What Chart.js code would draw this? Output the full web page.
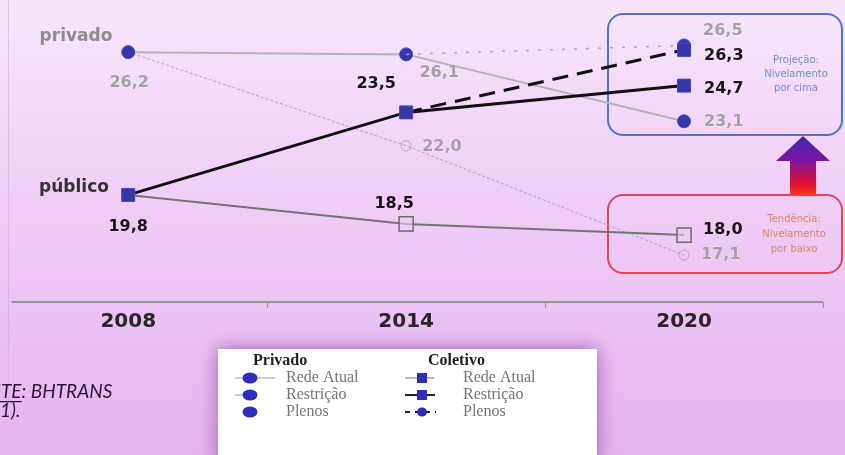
<!DOCTYPE html>
<html>
<head>
<meta charset="utf-8">
<script src="https://cdn.jsdelivr.net/npm/chart.js@4.4.1/dist/chart.umd.min.js"></script>
<style>
  html, body { margin: 0; padding: 0; overflow: hidden; background: #f0cbf6; }
  canvas { display: block; }
</style>
</head>
<body>
<canvas id="c" width="845" height="455"></canvas>
<script>
// Categories and series (share of trips, %)
const years = ['2008', '2014', '2020'];
const privadoRedeAtual  = [26.2, 22.0, 17.1];
const privadoRestricao  = [26.2, 26.1, 23.1];
const privadoPlenos     = [null, 26.1, 26.5];
const coletivoRedeAtual = [19.8, 18.5, 18.0];
const coletivoRestricao = [19.8, 23.5, 24.7];
const coletivoPlenos    = [null, 23.5, 26.3];
const yRange = [15, 28];

const toPoints = vals => vals.map((v, i) => ({ x: i, y: v }));
const fmt = v => v.toFixed(1).replace('.', ',');

const BLUE = '#3636a8';
const BLUE_EDGE = '#4848c4';

const datasets = [
  { key: 'coletivoRestricao', data: toPoints(coletivoRestricao), order: 0,
    borderColor: '#111', borderWidth: 3, pointStyle: 'rect', pointRadius: 9.2,
    pointBackgroundColor: BLUE, pointBorderColor: BLUE_EDGE, pointBorderWidth: 1 },
  { key: 'coletivoPlenos', data: toPoints(coletivoPlenos), order: 1,
    borderColor: '#111', borderWidth: 3, borderDash: [16, 9], pointStyle: 'rect',
    pointRadius: [0, 0, 9.2], pointBackgroundColor: BLUE, pointBorderColor: BLUE_EDGE, pointBorderWidth: 1 },
  { key: 'coletivoRedeAtual', data: toPoints(coletivoRedeAtual), order: 2,
    borderColor: '#747474', borderWidth: 2, pointStyle: 'rect', pointRadius: [0, 10, 10],
    pointBackgroundColor: 'rgba(240,205,246,0.6)', pointBorderColor: '#6a6a6a', pointBorderWidth: 1.5 },
  { key: 'privadoPlenos', data: toPoints(privadoPlenos), order: 3,
    borderColor: '#ababab', borderWidth: 1.5, borderDash: [3, 9], pointStyle: 'circle',
    pointRadius: [0, 0, 6.5], pointBackgroundColor: BLUE, pointBorderColor: BLUE_EDGE, pointBorderWidth: 1 },
  { key: 'privadoRestricao', data: toPoints(privadoRestricao), order: 4,
    borderColor: '#b3b3b3', borderWidth: 2, pointStyle: 'circle', pointRadius: 6.5,
    pointBackgroundColor: BLUE, pointBorderColor: BLUE_EDGE, pointBorderWidth: 1 },
  { key: 'privadoRedeAtual', data: toPoints(privadoRedeAtual), order: 5,
    borderColor: '#a9a9a9', borderWidth: 1, borderDash: [3, 2], pointStyle: 'circle',
    pointRadius: [0, 5, 5], pointBackgroundColor: 'rgba(255,255,255,0)', pointBorderColor: '#b0b0b0', pointBorderWidth: 1 }
];
const seriesByKey = { privadoRedeAtual, privadoRestricao, privadoPlenos,
                      coletivoRedeAtual, coletivoRestricao, coletivoPlenos };

// value labels: series, index, offset from the point, alignment, colour
const valueLabels = [
  ['privadoRestricao', 0,   1,  31, 'center', 'grey'],
  ['privadoRestricao', 1,  33,  18, 'center', 'grey'],
  ['privadoRestricao', 2,  20,   1, 'left',   'grey'],
  ['privadoRedeAtual', 1,  16,   1, 'left',   'grey'],
  ['privadoRedeAtual', 2,  17,   0, 'left',   'grey'],
  ['privadoPlenos',    2,  19, -15, 'left',   'grey'],
  ['coletivoPlenos',   2,  20,   6, 'left',   'black'],
  ['coletivoRestricao',2,  20,   3, 'left',   'black'],
  ['coletivoRestricao',1, -30, -29, 'center', 'black'],
  ['coletivoRestricao',0,   0,  32, 'center', 'black'],
  ['coletivoRedeAtual',1, -12, -20, 'center', 'black'],
  ['coletivoRedeAtual',2,  19,  -5, 'left',   'black']
];

function text(ctx, s, x, y, font, color, align) {
  ctx.font = font;
  ctx.fillStyle = color;
  ctx.textAlign = align || 'center';
  ctx.textBaseline = 'middle';
  ctx.fillText(s, x, y);
}

function roundRect(ctx, x, y, w, h, r) {
  ctx.beginPath();
  ctx.moveTo(x + r, y);
  ctx.arcTo(x + w, y, x + w, y + h, r);
  ctx.arcTo(x + w, y + h, x, y + h, r);
  ctx.arcTo(x, y + h, x, y, r);
  ctx.arcTo(x, y, x + w, y, r);
  ctx.closePath();
}

const backdrop = {
  id: 'backdrop',
  beforeDraw(chart) {
    const { ctx, width, height } = chart;
    const g = ctx.createLinearGradient(0, 0, 0, height);
    g.addColorStop(0, '#f6e6fa');
    g.addColorStop(0.5, '#efcbf6');
    g.addColorStop(1, '#e6b4f0');
    ctx.save();
    ctx.fillStyle = g;
    ctx.fillRect(0, 0, width, height);
    ctx.strokeStyle = 'rgba(205,180,215,0.7)';
    ctx.lineWidth = 1;
    ctx.beginPath(); ctx.moveTo(8.5, 0); ctx.lineTo(8.5, 405); ctx.stroke();
    ctx.restore();
  },
  beforeDatasetsDraw(chart) {
    const { ctx } = chart;
    const xs = chart.scales.x, ys = chart.scales.y;
    ctx.save();
    // category axis with ticks between years
    const yAxis = ys.getPixelForValue(yRange[0]);
    ctx.strokeStyle = '#969696';
    ctx.lineWidth = 2;
    ctx.beginPath();
    ctx.moveTo(xs.left, yAxis);
    ctx.lineTo(xs.getPixelForValue(years.length - 0.5), yAxis);
    ctx.stroke();
    ctx.lineWidth = 1.2;
    for (let i = 0; i < years.length; i++) {
      const tx = Math.round(xs.getPixelForValue(i + 0.5)) + 0.5;
      ctx.beginPath(); ctx.moveTo(tx, yAxis); ctx.lineTo(tx, yAxis + 6); ctx.stroke();
    }
    years.forEach((yr, i) => text(ctx, yr, xs.getPixelForValue(i), yAxis + 20,
      'bold 20px "DejaVu Sans"', '#262626'));

    // projection / trend boxes
    ctx.lineWidth = 2;
    ctx.strokeStyle = '#4f74c8';
    roundRect(ctx, 608, 14, 234, 121, 15); ctx.stroke();
    ctx.strokeStyle = '#dc4858';
    roundRect(ctx, 608, 195, 234, 78, 15); ctx.stroke();

    const f = '10px "DejaVu Sans"';
    text(ctx, 'Projeção:', 796, 60, f, '#6d8ed2');
    text(ctx, 'Nivelamento', 796, 74, f, '#6d8ed2');
    text(ctx, 'por cima', 796, 88, f, '#6d8ed2');
    text(ctx, 'Tendência:', 794, 219, f, '#d48468');
    text(ctx, 'Nivelamento', 794, 234, f, '#d48468');
    text(ctx, 'por baixo', 794, 249, f, '#d48468');

    // arrow from trend box up to projection box
    const ag = ctx.createLinearGradient(0, 136, 0, 196);
    ag.addColorStop(0, '#3a2cae');
    ag.addColorStop(0.4, '#7a14a4');
    ag.addColorStop(0.8, '#e4102e');
    ag.addColorStop(1, '#ff3a1e');
    ctx.fillStyle = ag;
    ctx.beginPath();
    ctx.moveTo(803, 136);
    ctx.lineTo(830, 161);
    ctx.lineTo(816, 161);
    ctx.lineTo(816, 195);
    ctx.lineTo(790, 195);
    ctx.lineTo(790, 161);
    ctx.lineTo(776, 161);
    ctx.closePath();
    ctx.fill();
    ctx.restore();
  },
  afterDatasetsDraw(chart) {
    const { ctx } = chart;
    const xs = chart.scales.x, ys = chart.scales.y;
    ctx.save();
    text(ctx, 'privado', 76, 37, 'bold 17px "DejaVu Sans"', '#8c8c8c');
    text(ctx, 'público', 74, 188, 'bold 17px "DejaVu Sans"', '#333');

    valueLabels.forEach(([key, i, dx, dy, align, tone]) => {
      const v = seriesByKey[key][i];
      const x = xs.getPixelForValue(i) + dx;
      const y = ys.getPixelForValue(v) + dy;
      if (tone === 'grey') {
        ctx.font = 'bold 16px "DejaVu Sans"';
        ctx.textAlign = align; ctx.textBaseline = 'middle';
        ctx.lineWidth = 1;
        ctx.strokeStyle = 'rgba(255,255,255,0.35)';
        ctx.strokeText(fmt(v), x, y);
        ctx.fillStyle = '#a2a2a2';
        ctx.fillText(fmt(v), x, y);
      } else {
        text(ctx, fmt(v), x, y, 'bold 16px "DejaVu Sans"', '#161616', align);
      }
    });

    // source note, running off the left edge
    ctx.font = 'italic 19px Lato';
    ctx.fillStyle = '#2a1830';
    ctx.textAlign = 'left';
    ctx.textBaseline = 'middle';
    const line1 = 'FONTE: BHTRANS';
    const x1 = 1 - ctx.measureText('FON').width;
    ctx.fillText(line1, x1, 392);
    const uEnd = x1 + ctx.measureText('FONTE').width;
    ctx.fillRect(x1, 401, uEnd - x1, 1.3);
    const line2 = '(2011).';
    ctx.fillText(line2, 0 - ctx.measureText('(201').width, 411);

    // legend panel
    ctx.save();
    ctx.shadowColor = 'rgba(110,30,130,0.6)';
    ctx.shadowBlur = 18;
    ctx.fillStyle = '#ffffff';
    ctx.fillRect(218, 349, 379, 115);
    ctx.restore();

    const hf = 'bold 16px "Liberation Serif"';
    const nf = '16px "Liberation Serif"';
    text(ctx, 'Privado', 253, 361, hf, '#222', 'left');
    text(ctx, 'Coletivo', 428, 361, hf, '#222', 'left');
    const rows = ['Rede Atual', 'Restrição', 'Plenos'];
    const rowY = [378, 395, 412];
    rows.forEach((r, i) => {
      text(ctx, r, 286, rowY[i], nf, '#767676', 'left');
      text(ctx, r, 463, rowY[i], nf, '#767676', 'left');
    });
    // privado markers
    ctx.strokeStyle = '#9a9ab8'; ctx.lineWidth = 1;
    ctx.beginPath(); ctx.moveTo(235, 378); ctx.lineTo(275, 378); ctx.stroke();
    ctx.beginPath(); ctx.moveTo(235, 395); ctx.lineTo(250, 395); ctx.stroke();
    rowY.forEach(y => {
      ctx.fillStyle = '#2d2dc0';
      ctx.beginPath(); ctx.ellipse(250, y, 7.5, 5.5, 0, 0, Math.PI * 2); ctx.fill();
    });
    // coletivo markers
    ctx.strokeStyle = '#8888a0'; ctx.lineWidth = 1.2;
    ctx.beginPath(); ctx.moveTo(405, 378); ctx.lineTo(434, 378); ctx.stroke();
    ctx.strokeStyle = '#222'; ctx.lineWidth = 2;
    ctx.beginPath(); ctx.moveTo(405, 395); ctx.lineTo(435, 395); ctx.stroke();
    ctx.setLineDash([5, 5]);
    ctx.beginPath(); ctx.moveTo(405, 412); ctx.lineTo(436, 412); ctx.stroke();
    ctx.setLineDash([]);
    ctx.fillStyle = '#2d2dc0';
    ctx.fillRect(417, 373, 10, 10);
    ctx.fillRect(417, 390, 10, 10);
    ctx.beginPath(); ctx.ellipse(422, 412, 5, 4.5, 0, 0, Math.PI * 2); ctx.fill();
    ctx.restore();
  }
};

new Chart(document.getElementById('c'), {
  type: 'line',
  data: {
    datasets: datasets.map(d => Object.assign({ tension: 0, fill: false, spanGaps: false }, d))
  },
  options: {
    responsive: false,
    animation: false,
    devicePixelRatio: 1,
    layout: { padding: { left: 8, right: 22, top: 12, bottom: 153 } },
    scales: {
      x: { type: 'linear', display: false, min: -0.42, max: 2.5 },
      y: { type: 'linear', display: false, min: yRange[0], max: yRange[1] }
    },
    plugins: { legend: { display: false }, tooltip: { enabled: false } }
  },
  plugins: [backdrop]
});
</script>
</body>
</html>
